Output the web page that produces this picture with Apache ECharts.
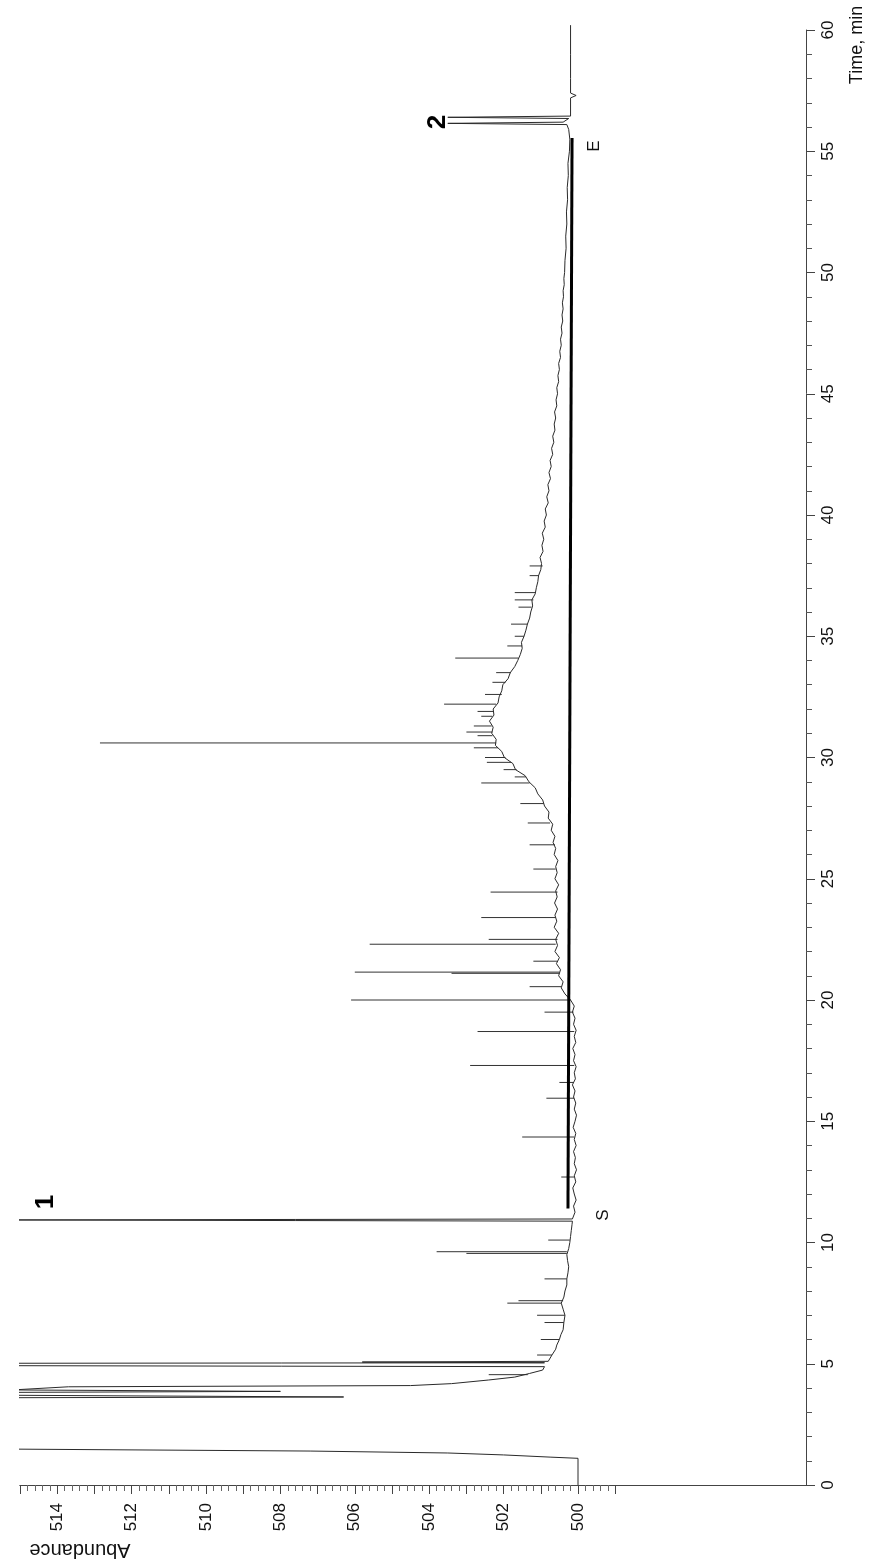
<!DOCTYPE html>
<html><head><meta charset="utf-8">
<script src="https://cdn.jsdelivr.net/npm/echarts@6/dist/echarts.min.js"></script>
<style>html,body{margin:0;padding:0;background:#fff}#c{width:873px;height:1564px}</style>
</head><body><div id="c"></div>
<script>
// ---- tick labels ----
const timeLabels = [0,5,10,15,20,25,30,35,40,45,50,55,60];
const abundanceLabels = [500,502,504,506,508,510,512,514];

// ---- main trace (time in min, abundance) ----
const traceTime = [0.0,1.10,1.15,1.24,1.32,1.40,1.48,3.60,3.63,3.70,3.82,3.86,3.92,4.00,4.05,4.10,4.18,4.33,4.45,4.60,4.74,4.88,4.92,5.02,5.04,5.07,5.10,5.36,5.6,5.77,6.0,6.2,6.4,6.7,7.0,7.25,7.5,7.75,8.0,8.25,8.5,8.75,9.0,9.25,9.5,9.75,10.0,10.25,10.5,10.75,10.88,10.93,10.97,
11.25,11.5,11.75,12.0,12.25,12.5,12.75,13.0,13.25,13.5,13.75,14.0,14.25,14.5,14.75,15.0,15.25,15.5,15.75,16.0,16.25,16.5,16.75,17.0,17.25,17.5,17.75,18.0,18.25,18.5,18.75,19.0,19.25,19.5,19.75,20.0,
20.25,20.5,20.75,21.0,21.25,21.5,21.75,22.0,22.25,22.5,22.75,23.0,23.25,23.5,23.75,24.0,24.25,24.5,24.75,25.0,25.25,25.5,25.75,26.0,26.25,26.5,26.75,27.0,27.25,27.5,27.75,28.0,28.25,28.5,28.75,29.0,29.25,29.5,29.75,30.0,
30.25,30.5,30.75,31.0,31.25,31.5,31.75,32.0,32.25,32.5,32.75,33.0,33.25,33.5,33.75,34.0,34.25,34.5,34.75,35.0,35.25,35.5,35.75,36.0,36.25,36.5,36.75,37.0,37.25,37.5,37.75,38.0,38.25,38.5,38.75,39.0,39.25,39.5,39.75,40.0,
40.25,40.5,40.75,41.0,41.25,41.5,41.75,42.0,42.25,42.5,42.75,43.0,43.25,43.5,43.75,44.0,44.25,44.5,44.75,45.0,45.25,45.5,45.75,46.0,46.25,46.5,46.75,47.0,47.25,47.5,47.75,48.0,48.25,48.5,48.75,49.0,49.25,49.5,49.75,50.0,
50.5,51.0,51.5,52.0,52.5,53.0,53.5,54.0,54.5,55.0,55.5,55.9,56.1,56.15,56.2,56.35,56.4,56.45,57.2,57.3,57.4,58,59,60.2];
const traceAbundance = [500.0,500.0,500.75,502.0,503.5,507.2,515.2,515.2,506.3,515.2,515.2,508.0,515.2,515.2,513.7,504.5,503.4,502.4,501.7,501.3,500.95,500.9,515.2,515.2,500.9,505.8,500.8,500.7,500.6,500.57,500.5,500.46,500.4,500.38,500.35,500.4,500.45,500.38,500.35,500.3,500.3,500.27,500.25,500.28,500.3,500.25,500.22,500.2,500.18,500.16,500.15,515.2,500.15,
500.08,500.12,500.05,500.1,500.14,500.06,500.1,500.04,500.1,500.07,500.12,500.05,500.1,500.06,500.13,500.08,500.04,500.1,500.06,500.12,500.08,500.15,500.07,500.1,500.05,500.12,500.08,500.14,500.06,500.1,500.05,500.12,500.08,500.15,500.1,500.2,
500.35,500.45,500.4,500.52,500.47,500.58,500.5,500.62,500.55,500.6,500.52,500.64,500.57,500.62,500.55,500.63,500.56,500.6,500.52,500.62,500.56,500.6,500.54,500.64,500.6,500.67,500.62,500.72,500.68,500.8,500.78,500.9,500.95,501.08,501.15,501.32,501.42,501.68,501.75,501.98,
502.05,502.22,502.2,502.32,502.28,502.38,502.26,502.28,502.15,502.12,502.05,502.02,501.88,501.82,501.7,501.62,501.55,501.5,501.52,501.45,501.4,501.36,501.3,501.27,501.22,501.24,501.15,501.12,501.08,501.06,501.0,500.98,501.02,500.94,500.97,500.92,500.96,500.88,500.91,500.85,
500.88,500.8,500.84,500.78,500.81,500.74,500.78,500.72,500.75,500.68,500.71,500.65,500.68,500.62,500.64,500.6,500.63,500.57,500.59,500.55,500.57,500.52,500.54,500.5,500.52,500.47,500.49,500.45,500.47,500.43,500.45,500.41,500.43,500.4,500.42,500.39,500.4,500.37,500.38,500.36,
500.35,500.32,500.33,500.3,500.31,500.28,500.29,500.26,500.27,500.23,500.22,500.25,500.3,503.5,500.4,500.25,503.5,500.2,500.2,500.05,500.2,500.2,500.2,500.2];

// ---- narrow spikes: time, baseline abundance, peak abundance ----
const spikeTime = [4.55,5.36,6.0,6.7,7.0,7.5,7.6,8.5,9.55,9.62,10.1,12.7,14.35,15.95,16.6,17.3,18.7,19.5,20.0,20.55,21.1,21.15,21.6,22.3,22.5,23.4,24.45,25.4,26.4,27.3,28.1,28.95,29.2,29.5,29.8,30.0,30.4,30.6,30.9,31.05,31.3,31.7,31.9,32.2,32.6,33.1,33.5,34.1,34.6,35.0,35.5,36.2,36.5,36.8,37.5,37.9];
const spikeBase = [501.35,500.7,500.5,500.38,500.35,500.45,500.4,500.3,500.3,500.3,500.22,500.1,500.1,500.1,500.12,500.1,500.1,500.12,500.2,500.45,500.5,500.5,500.55,500.6,500.55,500.6,500.55,500.6,500.62,500.75,500.92,501.3,501.4,501.65,501.8,501.95,502.15,502.2,502.3,502.3,502.32,502.3,502.28,502.2,502.05,501.95,501.8,501.6,501.5,501.45,501.35,501.25,501.2,501.15,501.05,500.95];
const spikePeak = [502.4,501.1,501.0,500.9,501.1,501.9,501.6,500.9,503.0,503.8,500.8,500.45,501.5,500.85,500.5,502.9,502.7,500.9,506.1,501.3,503.4,506.0,501.2,505.6,502.4,502.6,502.35,501.2,501.3,501.35,501.55,502.6,501.7,502.0,502.45,502.5,502.8,512.85,502.7,503.0,502.8,502.6,502.7,503.6,502.5,502.3,502.2,503.3,501.9,501.7,501.8,501.6,501.7,501.7,501.3,501.3];

// ---- S–E integration baseline ----
const segTime = [11.4, 55.55];
const segAbundance = [500.27, 500.16];

const FONT = '"Liberation Sans", Arial, Helvetica, sans-serif';
const chart = echarts.init(document.getElementById('c'), null, {renderer: 'canvas'});

const traceData = traceTime.map((t, i) => [traceAbundance[i], t]);
const spikeData = spikeTime.map((t, i) => [spikeBase[i], t, spikePeak[i]]);
const segData = segTime.map((t, i) => [segAbundance[i], t]);

chart.setOption({
  animation: false,
  backgroundColor: '#fff',
  grid: [
    {left: 20, right: 257.8, top: 30, bottom: 79},
    {left: 20, right: 67, top: 30, bottom: 79}
  ],
  xAxis: [
    {
      gridIndex: 0, type: 'value', min: 499, max: 515, interval: 1, inverse: true,
      axisLine: {show: true, onZero: false, lineStyle: {color: '#444', width: 1}},
      axisTick: {show: true, length: 9, lineStyle: {color: '#444'}},
      minorTick: {show: true, splitNumber: 5, length: 6, lineStyle: {color: '#666'}},
      splitLine: {show: false},
      axisLabel: {
        rotate: 90, margin: 18, color: '#111', fontSize: 17, fontFamily: FONT,
        formatter: v => abundanceLabels.indexOf(Math.round(v)) >= 0 && Math.abs(v - Math.round(v)) < 1e-6 ? String(Math.round(v)) : ''
      }
    },
    {
      gridIndex: 1, type: 'value', min: 0, max: 1,
      axisLine: {show: true, onZero: false, lineStyle: {color: '#444', width: 1}},
      axisTick: {show: false}, axisLabel: {show: false}, splitLine: {show: false}
    }
  ],
  yAxis: [
    {gridIndex: 0, type: 'value', min: 0, max: 60, show: false, axisLine: {onZero: false}, splitLine: {show: false}},
    {
      gridIndex: 1, type: 'value', position: 'right', min: 0, max: 60, interval: 5,
      axisLine: {show: true, onZero: false, lineStyle: {color: '#444', width: 1}},
      axisTick: {show: true, length: 9, lineStyle: {color: '#444'}},
      minorTick: {show: true, splitNumber: 5, length: 6, lineStyle: {color: '#555'}},
      splitLine: {show: false},
      axisLabel: {
        rotate: 90, margin: 14, color: '#111', fontSize: 17, fontFamily: FONT,
        formatter: v => timeLabels.indexOf(v) >= 0 ? String(v) : ''
      }
    }
  ],
  series: [
    {
      name: 'trace', type: 'line', xAxisIndex: 0, yAxisIndex: 0,
      data: traceData, showSymbol: false, clip: false,
      lineStyle: {color: '#2a2a2a', width: 1}
    },
    {
      name: 'spikes', type: 'custom', xAxisIndex: 0, yAxisIndex: 0,
      data: spikeData, encode: {x: [0, 2], y: 1},
      renderItem: (params, api) => {
        const a = api.coord([api.value(0), api.value(1)]);
        const b = api.coord([api.value(2), api.value(1)]);
        return {type: 'line', shape: {x1: a[0], y1: a[1], x2: b[0], y2: b[1]},
                style: {stroke: '#333', lineWidth: 1}};
      }
    },
    {
      name: 'S-E baseline', type: 'line', xAxisIndex: 0, yAxisIndex: 0,
      data: segData, showSymbol: false,
      lineStyle: {color: '#000', width: 3}
    }
  ],
  graphic: [
    {type: 'text', x: 857, y: 45, rotation: Math.PI / 2,
     style: {text: 'Time, min', font: '18px ' + FONT, fill: '#111', textAlign: 'center', textVerticalAlign: 'middle'}},
    {type: 'text', x: 80, y: 1550, rotation: Math.PI,
     style: {text: 'Abundance', font: '20px ' + FONT, fill: '#111', textAlign: 'center', textVerticalAlign: 'middle'}},
    {type: 'text', x: 46, y: 1202, rotation: Math.PI / 2,
     style: {text: '1', font: 'bold 26px ' + FONT, fill: '#000', textAlign: 'center', textVerticalAlign: 'middle'}},
    {type: 'text', x: 438, y: 122, rotation: Math.PI / 2,
     style: {text: '2', font: 'bold 26px ' + FONT, fill: '#000', textAlign: 'center', textVerticalAlign: 'middle'}},
    {type: 'text', x: 603, y: 1215, rotation: Math.PI / 2,
     style: {text: 'S', font: '17px ' + FONT, fill: '#111', textAlign: 'center', textVerticalAlign: 'middle'}},
    {type: 'text', x: 594, y: 146, rotation: Math.PI / 2,
     style: {text: 'E', font: '17px ' + FONT, fill: '#111', textAlign: 'center', textVerticalAlign: 'middle'}}
  ]
});
</script></body></html>
